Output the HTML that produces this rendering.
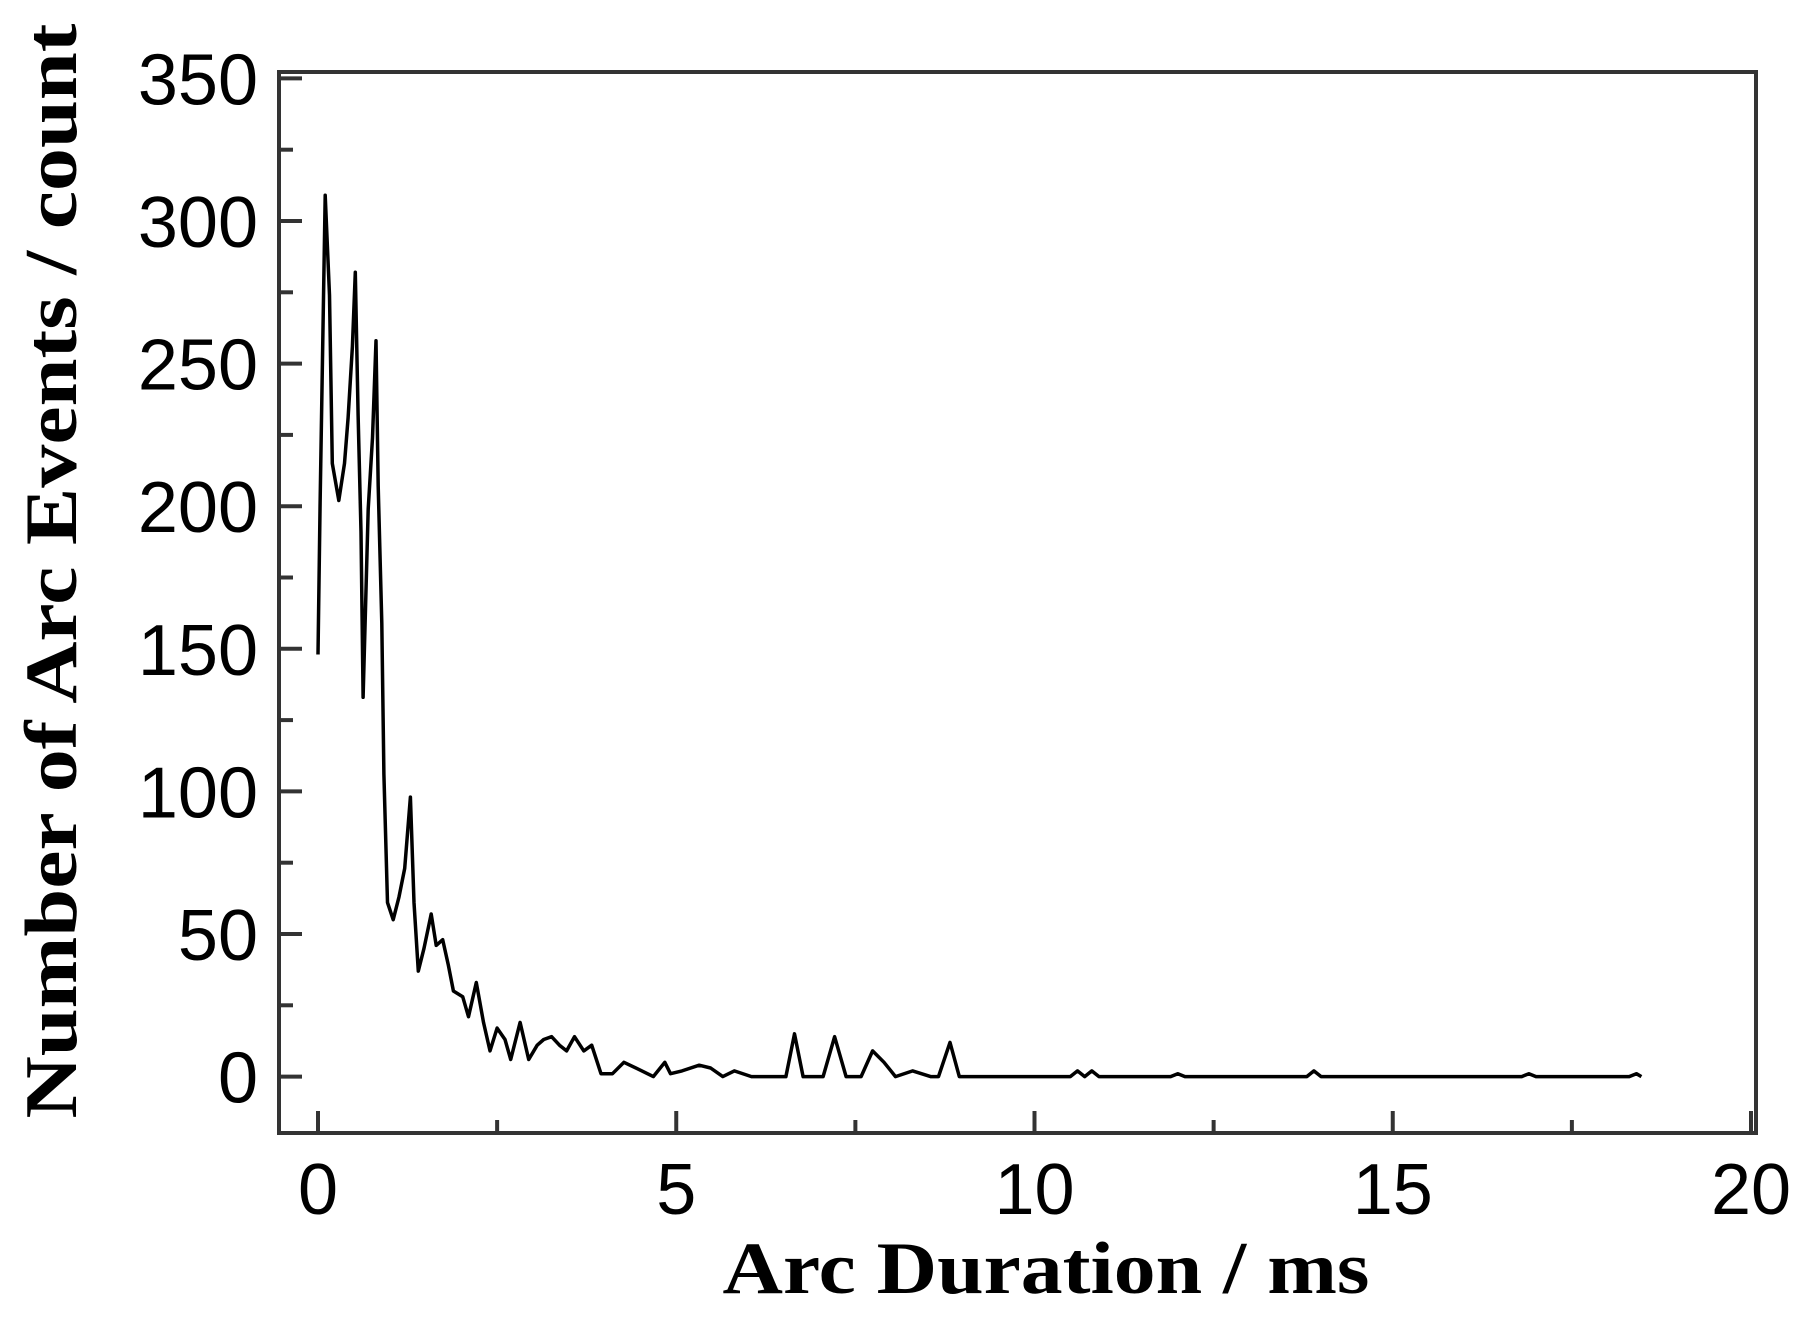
<!DOCTYPE html>
<html><head><meta charset="utf-8"><style>
html,body{margin:0;padding:0;background:#fff;}
svg{display:block;}
</style></head><body>
<svg id="chart" width="1811" height="1320" viewBox="0 0 1811 1320" xmlns="http://www.w3.org/2000/svg">
<rect width="1811" height="1320" fill="#fff"/>
<g id="axes"></g>
<g id="series"></g>
<text x="1046" y="1293" text-anchor="middle" font-family="Liberation Serif, serif" font-weight="bold" font-size="74" textLength="647" lengthAdjust="spacingAndGlyphs" fill="#000">Arc Duration / ms</text>
<text transform="translate(76,571) rotate(-90)" text-anchor="middle" font-family="Liberation Serif, serif" font-weight="bold" font-size="74" textLength="1095" lengthAdjust="spacingAndGlyphs" fill="#000">Number of Arc Events / count</text>
</svg>
<script>
const xValues = [0,0.03,0.1,0.16,0.2,0.29,0.37,0.42,0.48,0.52,0.56,0.6,0.63,0.7,0.76,0.81,0.84,0.89,0.92,0.97,1.05,1.13,1.21,1.29,1.34,1.4,1.48,1.58,1.65,1.74,1.82,1.89,2.02,2.1,2.21,2.31,2.4,2.5,2.61,2.69,2.82,2.94,3.06,3.15,3.26,3.37,3.47,3.58,3.71,3.82,3.95,4.11,4.27,4.52,4.68,4.84,4.92,5.08,5.32,5.48,5.65,5.81,6.05,6.53,6.65,6.77,7.05,7.21,7.37,7.58,7.74,7.9,8.06,8.3,8.55,8.66,8.82,8.95,10.5,10.6,10.7,10.8,10.9,11.9,12.0,12.1,13.8,13.9,14.0,16.8,16.9,17.0,18.3,18.4,18.47];
const yValues = [148,201,309,274,215,202,215,231,256,282,232,191,133,199,224,258,207,159,106,61,55,63,73,98,61,37,45,57,46,48,39,30,28,21,33,19,9,17,13,6,19,6,11,13,14,11,9,14,9,11,1,1,5,2,0,5,1,2,4,3,0,2,0,0,15,0,0,14,0,0,9,5,0,2,0,0,12,0,0,2,0,2,0,0,1,0,0,2,0,0,1,0,0,1,0];
const xTicks = [0,5,10,15,20];
const yTicks = [0,50,100,150,200,250,300,350];
const xMinor = [2.5,7.5,12.5,17.5];
const yMinor = [25,75,125,175,225,275,325];

const NS='http://www.w3.org/2000/svg';
const L=279,R=1756,T=72,B=1133;
function sx(v){return 318+v*(1751-318)/20;}
function sy(v){return 1076.6-v*(1076.6-78.4)/350;}
function mk(tag,attrs,parent){const e=document.createElementNS(NS,tag);for(const k in attrs)e.setAttribute(k,attrs[k]);parent.appendChild(e);return e;}
const ax=document.getElementById('axes');
const frame=mk('rect',{x:L,y:T,width:R-L,height:B-T,fill:'none',stroke:'#333',"stroke-width":4},ax);


xTicks.forEach(v=>{
  const t=mk('line',{x1:sx(v),x2:sx(v),y1:B,y2:B-22,stroke:'#333',"stroke-width":4},ax);
  
  
  const l=mk('text',{x:sx(v),y:1214,"text-anchor":'middle',"font-family":'Liberation Sans, sans-serif',"font-size":72,fill:'#000'},ax);
  l.textContent=v;
  
  
});
xMinor.forEach(v=>{
  const t=mk('line',{x1:sx(v),x2:sx(v),y1:B,y2:B-13,stroke:'#333',"stroke-width":4},ax);
  
  
});
yTicks.forEach(v=>{
  const t=mk('line',{x1:L,x2:L+23,y1:sy(v),y2:sy(v),stroke:'#333',"stroke-width":4},ax);
  
  
  const l=mk('text',{x:258,y:sy(v)+26,"text-anchor":'end',"font-family":'Liberation Sans, sans-serif',"font-size":72,fill:'#000'},ax);
  l.textContent=v;
  
  
});
yMinor.forEach(v=>{
  const t=mk('line',{x1:L,x2:L+14,y1:sy(v),y2:sy(v),stroke:'#333',"stroke-width":4},ax);
  
  
});
const pts=xValues.map((x,i)=>sx(x).toFixed(1)+','+sy(yValues[i]).toFixed(1)).join(' ');
const line=mk('polyline',{points:pts,fill:'none',stroke:'#000',"stroke-width":3.5,"stroke-linejoin":'round'},document.getElementById('series'));


</script>
</body></html>
